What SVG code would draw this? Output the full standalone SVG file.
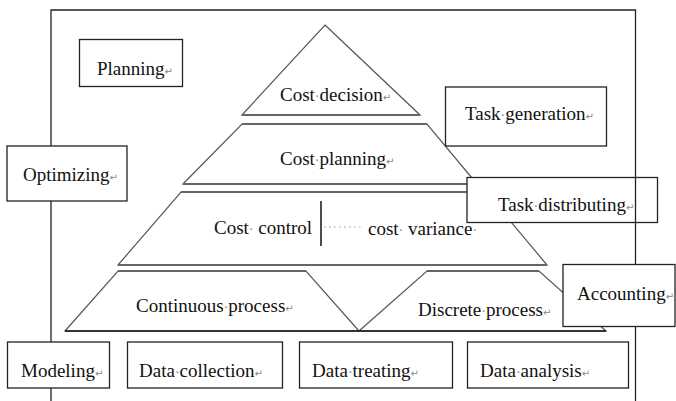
<svg xmlns="http://www.w3.org/2000/svg" width="676" height="401" viewBox="0 0 676 401" font-family="'Liberation Serif', 'Times New Roman', 'DejaVu Serif', serif">
<style>
text{font-family:'Liberation Serif','Times New Roman','DejaVu Serif',serif;font-size:19px;fill:#111}
.m{fill:#888;font-size:14px}
.r{fill:#888;font-size:10px;font-family:'DejaVu Sans',sans-serif}
.box{fill:#fff;stroke:#222;stroke-width:1.3}
.lvl{fill:#fff;stroke:#555;stroke-width:1.2;stroke-linejoin:miter}
.edge{stroke:#666;stroke-width:2.2;fill:none}
.frame{stroke:#222;stroke-width:1.3;fill:none}
</style>
<rect width="676" height="401" fill="#fff"/>
<g id="pyramid-cost-decision">
<polygon class="lvl" points="325,25 420,115 242,115"/>
<line class="edge" x1="242" y1="115" x2="420" y2="115"/>
<text x="280" y="101">Cost<tspan class="m">·</tspan>decision<tspan class="r">↵</tspan></text>
</g>
<g id="pyramid-cost-planning">
<polygon class="lvl" points="242,124 427,124 477,184 183,184"/>
<line class="edge" x1="242" y1="124" x2="427" y2="124"/>
<line class="edge" x1="183" y1="184" x2="477" y2="184"/>
<text x="280" y="165">Cost<tspan class="m">·</tspan>planning<tspan class="r">↵</tspan></text>
</g>
<g id="pyramid-cost-control">
<polygon class="lvl" points="181,192 486,192 547,265 118,265"/>
<line class="edge" x1="181" y1="192" x2="486" y2="192"/>
<line class="edge" x1="118" y1="265" x2="547" y2="265"/>
<text x="214" y="234">Cost<tspan class="m">·</tspan> control</text>
<line x1="321" y1="201" x2="321" y2="246" stroke="#111" stroke-width="1.5"/>
<line x1="324" y1="227" x2="364" y2="227" stroke="#999" stroke-width="1" stroke-dasharray="1.5 3.5"/>
<text x="368" y="235">cost<tspan class="m">·</tspan> variance<tspan class="m">·</tspan></text>
</g>
<g id="continuous-process">
<polygon class="lvl" points="118,271 306,271 359,331 65,331"/>
<line class="edge" x1="118" y1="271" x2="306" y2="271"/>
<text x="136" y="312">Continuous<tspan class="m">·</tspan>process<tspan class="r">↵</tspan></text>
</g>
<g id="discrete-process">
<polygon class="lvl" points="359,331 427,271 539,271 606,331"/>
<line class="edge" x1="427" y1="271" x2="539" y2="271"/>
<text x="418" y="316">Discrete<tspan class="m">·</tspan>process<tspan class="r">↵</tspan></text>
</g>
<line x1="65" y1="331" x2="606" y2="331" stroke="#111" stroke-width="1.6"/>
<g id="task-distributing">
<rect class="box" x="467" y="177.5" width="190.5" height="45"/>
<text x="498" y="211">Task<tspan class="m">·</tspan>distributing<tspan class="r">↵</tspan></text>
</g>
<g id="connectors">
<polyline class="frame" points="51,401 51,10 635.5,10 635.5,401"/>
</g>
<g id="planning">
<rect class="box" x="79.5" y="39.5" width="103" height="47"/>
<text x="97" y="74.5">Planning<tspan class="r">↵</tspan></text>
</g>
<g id="task-generation">
<rect class="box" x="445.5" y="87" width="161" height="59"/>
<text x="465" y="120">Task<tspan class="m">·</tspan>generation<tspan class="r">↵</tspan></text>
</g>
<g id="optimizing">
<rect class="box" x="7" y="146" width="120" height="55"/>
<text x="23" y="181">Optimizing<tspan class="r">↵</tspan></text>
</g>
<g id="accounting">
<rect class="box" x="563" y="264.5" width="112" height="62"/>
<text x="577" y="300">Accounting<tspan class="r">↵</tspan></text>
</g>
<g id="modeling">
<rect class="box" x="7.5" y="342" width="102" height="46"/>
<text x="21" y="377">Modeling<tspan class="r">↵</tspan></text>
</g>
<g id="data-collection">
<rect class="box" x="127.5" y="342" width="155" height="46"/>
<text x="139" y="377">Data<tspan class="m">·</tspan>collection<tspan class="r">↵</tspan></text>
</g>
<g id="data-treating">
<rect class="box" x="299.5" y="342" width="153" height="46"/>
<text x="312" y="377">Data<tspan class="m">·</tspan>treating<tspan class="r">↵</tspan></text>
</g>
<g id="data-analysis">
<rect class="box" x="467.5" y="342" width="161" height="46"/>
<text x="480" y="377">Data<tspan class="m">·</tspan>analysis<tspan class="r">↵</tspan></text>
</g>
</svg>
